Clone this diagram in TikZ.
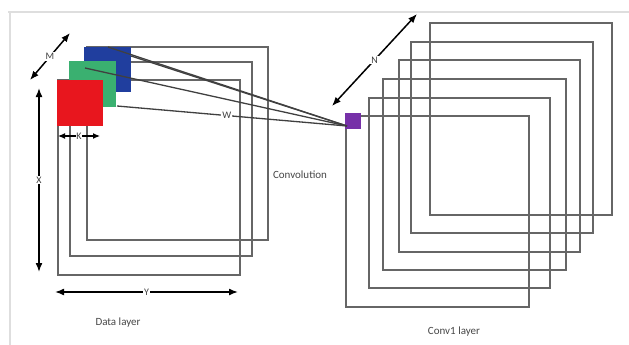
\documentclass[tikz,border=0pt]{standalone}
\usepackage{fontspec}
\setmainfont{Carlito}
\usetikzlibrary{arrows.meta}
\definecolor{sqblue}{RGB}{32,62,158}
\definecolor{sqgreen}{RGB}{58,176,112}
\definecolor{sqred}{RGB}{232,22,30}
\definecolor{sqpurple}{RGB}{118,48,168}
\definecolor{frameline}{RGB}{222,222,222}
\definecolor{txtgray}{RGB}{70,70,70}
\tikzset{
  layer/.style={draw=black!60, line width=2pt, fill=none, inner sep=0pt, anchor=north west},
  kernel/.style={draw=none, inner sep=0pt, anchor=north west},
  feed/.style={draw=black!75, line width=1.3pt},
  dim/.style={draw=black, line width=1.5pt, {Latex[length=9pt,width=7pt]}-{Latex[length=9pt,width=7pt]}},
  lbl/.style={fill=white, inner sep=1pt, text=black!75, font=\fontsize{10}{11}\selectfont},
  caption/.style={text=txtgray, font=\fontsize{11}{13}\selectfont},
}
\begin{document}
\begin{tikzpicture}[x=1pt,y=-1pt]
\useasboundingbox (0,0) rectangle (629,345);
% frame
\draw[frameline, line width=1.5pt] (8,12) -- (629,12);
\draw[frameline, line width=1.5pt] (10,12) -- (10,345);

% data layer squares
\node[layer, minimum width=181, minimum height=193] (d3) at (86,46) {};
\node[layer, minimum width=182, minimum height=194] (d2) at (69,61) {};
\node[layer, minimum width=182, minimum height=195] (d1) at (57,79) {};

% colour kernels
\node[kernel, fill=sqblue, minimum width=47, minimum height=45] (kb) at (84,47) {};
\node[kernel, fill=sqgreen, minimum width=47, minimum height=46] (kg) at (69,61) {};
\node[kernel, fill=sqred, minimum width=46, minimum height=46] (kr) at (57,80) {};

% conv layer squares
\node[layer, minimum width=183, minimum height=191] (c1) at (345,115) {};
\node[layer, minimum width=181, minimum height=190] (c2) at (368,97) {};
\node[layer, minimum width=183, minimum height=191] (c3) at (382,78) {};
\node[layer, minimum width=181, minimum height=192] (c4) at (398,59) {};
\node[layer, minimum width=182, minimum height=191] (c5) at (410,41) {};
\node[layer, minimum width=182, minimum height=192] (c6) at (429,22) {};

% output unit
\node[kernel, fill=sqpurple, minimum width=16, minimum height=16] (pu) at (345,113) {};
\coordinate (hit) at (347,126);

% feed lines
\coordinate (s1) at (108,47);
\coordinate (s2) at (131,56);
\coordinate (s3) at (85,68);
\coordinate (s4) at (117,106);
\draw[feed] (s1) -- (hit);
\draw[feed] (s2) -- (hit);
\draw[feed] (s3) -- (hit);
\draw[feed] (s4) -- node[lbl, pos=0.478] (w) {W} (hit);

% dimension arrows
\coordinate (m1) at (30,80);  \coordinate (m2) at (70,33);
\draw[dim] (m1) -- node[lbl] (m) {M} (m2);
\coordinate (x1) at (39,88);  \coordinate (x2) at (39,272);
\draw[dim] (x1) -- node[lbl] (xl) {X} (x2);
\coordinate (y1) at (55,292); \coordinate (y2) at (238,292);
\draw[dim] (y1) -- node[lbl] (yl) {Y} (y2);
\coordinate (k1) at (58,136); \coordinate (k2) at (100,136);
\draw[dim, line width=1.2pt, {Latex[length=7pt,width=6pt]}-{Latex[length=7pt,width=6pt]}] (k1) -- node[lbl, inner sep=0.5pt] (k) {K} (k2);
\coordinate (n1) at (332,106); \coordinate (n2) at (417,14);
\draw[dim] (n1) -- node[lbl] (nl) {N} (n2);

% captions
\node[caption] (conv) at (300,175) {Convolution};
\node[caption] (dl) at (118,323) {Data layer};
\node[caption] (cl) at (454,332) {Conv1 layer};
\end{tikzpicture}
\end{document}
